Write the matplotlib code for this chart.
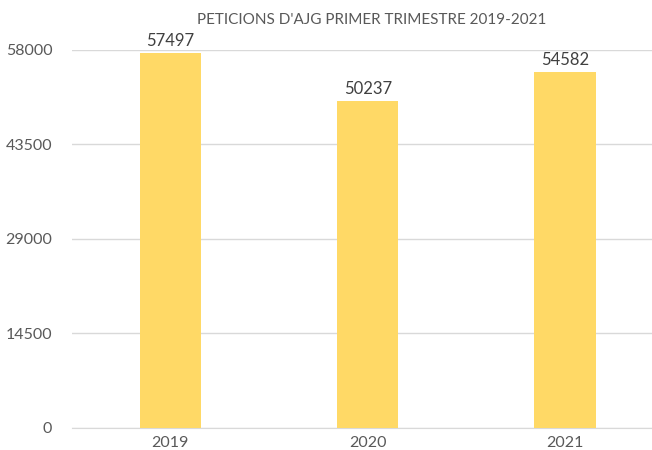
import matplotlib.pyplot as plt

# Data
years = ["2019", "2020", "2021"]
peticions = [57497, 50237, 54582]
yticks = [0, 14500, 29000, 43500, 58000]

plt.rcParams['font.family'] = ['Lato', 'DejaVu Sans']

fig = plt.figure(figsize=(6.52, 4.5), dpi=100)
ax = fig.add_axes([0.110, 0.049, 0.908, 0.840])

x = range(len(years))
bars = ax.bar(x, peticions, width=0.31, color='#FFD966', zorder=3)
for xi, v in zip(x, peticions):
    ax.text(xi, v + 600, str(v), ha='center', va='bottom', fontsize=12, color='#404040')

ax.set_xlim(-0.5, 2.5)
ax.set_ylim(0, 58000)
ax.set_yticks(yticks)
ax.set_yticklabels([str(t) for t in yticks])
ax.set_xticks(list(x))
ax.set_xticklabels(years)
ax.tick_params(axis='both', length=0, labelsize=11.5, labelcolor='#595959')
ax.tick_params(axis='y', pad=14)
ax.tick_params(axis='x', pad=6)
ax.grid(axis='y', color='#D9D9D9', linewidth=1, zorder=0)
for s in ['top', 'right', 'left']:
    ax.spines[s].set_visible(False)
ax.spines['bottom'].set_color('#D9D9D9')

fig.text(0.57, 0.955, "PETICIONS D'AJG PRIMER TRIMESTRE 2019-2021", ha='center', va='center',
         fontsize=11, color='#595959')

fig.savefig("out.png", dpi=100)
